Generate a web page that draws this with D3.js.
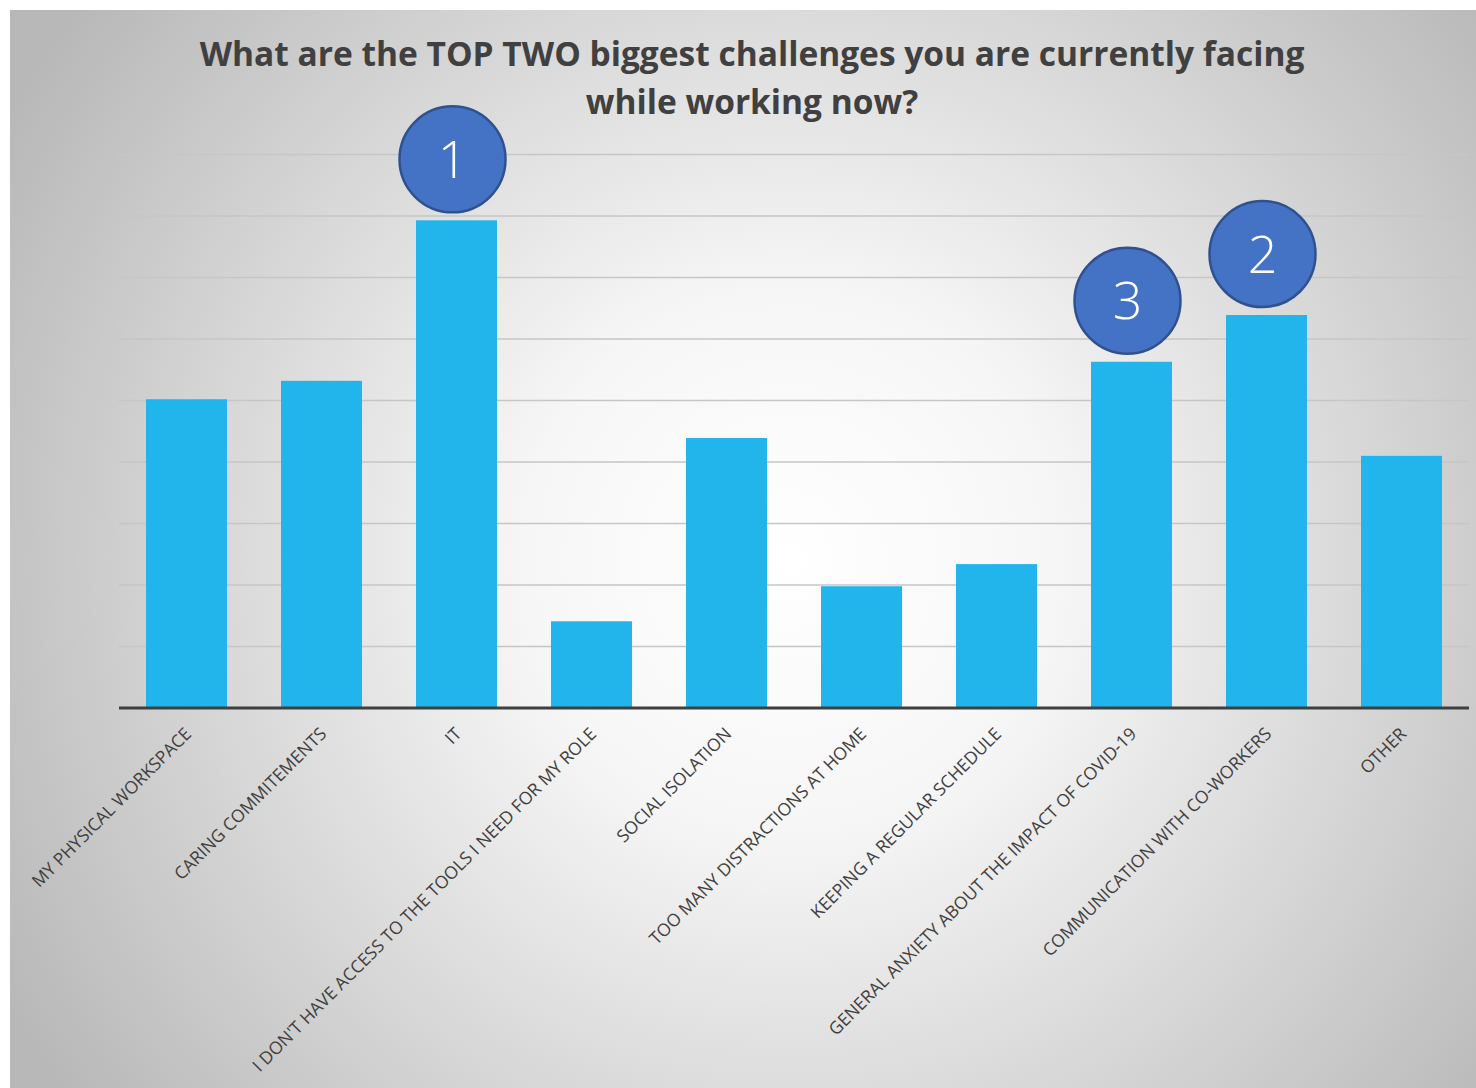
<!DOCTYPE html>
<meta charset="utf-8">
<style>
body { margin: 0; background: #fff; }
text { font-family: "Open Sans", sans-serif; }
.title { font-weight: bold; font-size: 33.5px; fill: #404040; }
.tick text { font-size: 17.5px; fill: #404040; }
</style>
<svg width="1476" height="1088"></svg>
<script src="https://d3js.org/d3.v7.min.js"></script>
<script>

var categories = ["MY PHYSICAL WORKSPACE", "CARING COMMITEMENTS", "IT",
  "I DON'T HAVE ACCESS TO THE TOOLS I NEED FOR MY ROLE", "SOCIAL ISOLATION",
  "TOO MANY DISTRACTIONS AT HOME", "KEEPING A REGULAR SCHEDULE",
  "GENERAL ANXIETY ABOUT THE IMPACT OF COVID-19", "COMMUNICATION WITH CO-WORKERS", "OTHER"];
var values = [5.02, 5.32, 7.93, 1.41, 4.39, 1.98, 2.34, 5.63, 6.39, 4.10];
var gridTicks = [1, 2, 3, 4, 5, 6, 7, 8, 9];
var ranks = [{cat: "IT", n: 1}, {cat: "COMMUNICATION WITH CO-WORKERS", n: 2},
  {cat: "GENERAL ANXIETY ABOUT THE IMPACT OF COVID-19", n: 3}];

var svg = d3.select("svg");

// background panel with radial shading
var grad = svg.append("defs").append("radialGradient")
    .attr("id", "bg")
    .attr("gradientUnits", "userSpaceOnUse")
    .attr("cx", 790).attr("cy", 560).attr("r", 900);
grad.append("stop").attr("offset", "0%").attr("stop-color", "#ffffff");
grad.append("stop").attr("offset", "30%").attr("stop-color", "#f6f6f6");
grad.append("stop").attr("offset", "100%").attr("stop-color", "#b8b8b8");

svg.append("rect")
    .attr("x", 10).attr("y", 10)
    .attr("width", 1466).attr("height", 1078)
    .attr("fill", "url(#bg)");

var x = d3.scaleBand()
    .domain(categories)
    .range([119, 1469])
    .paddingInner(0.4)
    .paddingOuter(0.2);

var y = d3.scaleLinear()
    .domain([0, 9])
    .range([708, 154.5]);

// gridlines
svg.append("g")
  .selectAll("line")
  .data(gridTicks)
  .join("line")
    .attr("x1", 119).attr("x2", 1469)
    .attr("y1", d => y(d)).attr("y2", d => y(d))
    .attr("stroke", "#c6c6c6")
    .attr("stroke-width", 1.3);

// bars
svg.append("g")
  .selectAll("rect")
  .data(values)
  .join("rect")
    .attr("x", (d, i) => x(categories[i]))
    .attr("y", d => y(d))
    .attr("width", x.bandwidth())
    .attr("height", d => y(0) - y(d))
    .attr("fill", "#21b5ec");

// x axis
var xAxis = svg.append("g")
    .attr("transform", "translate(0," + y(0) + ")")
    .call(d3.axisBottom(x).tickSize(0).tickSizeOuter(0));

xAxis.select(".domain")
    .attr("stroke", "#3f3f3f")
    .attr("stroke-width", 3)
    .attr("d", "M119,0H1469");

xAxis.selectAll(".tick text")
    .attr("text-anchor", "end")
    .attr("dy", null)
    .attr("y", 0)
    .attr("transform", "translate(6,27) rotate(-45)");

// title
svg.append("text")
    .attr("class", "title")
    .attr("text-anchor", "middle")
    .selectAll("tspan")
    .data(["What are the TOP TWO biggest challenges you are currently facing",
           "while working now?"])
    .join("tspan")
      .attr("x", 752)
      .attr("y", (d, i) => 66 + i * 48)
      .text(d => d);

// rank badges
var badge = svg.append("g")
  .selectAll("g")
  .data(ranks)
  .join("g")
    .attr("transform", d => {
      var v = values[categories.indexOf(d.cat)];
      return "translate(" + (x(d.cat) + x.bandwidth() / 2 - 4) + "," + (y(v) - 61) + ")";
    });

badge.append("circle")
    .attr("r", 53)
    .attr("fill", "#4472c4")
    .attr("stroke", "#2f528f")
    .attr("stroke-width", 2.5);

badge.append("text")
    .attr("text-anchor", "middle")
    .attr("dy", "0.36em")
    .attr("fill", "#fff")
    .style("font-size", "52px")
    .style("font-weight", 300)
    .text(d => d.n);

</script>
